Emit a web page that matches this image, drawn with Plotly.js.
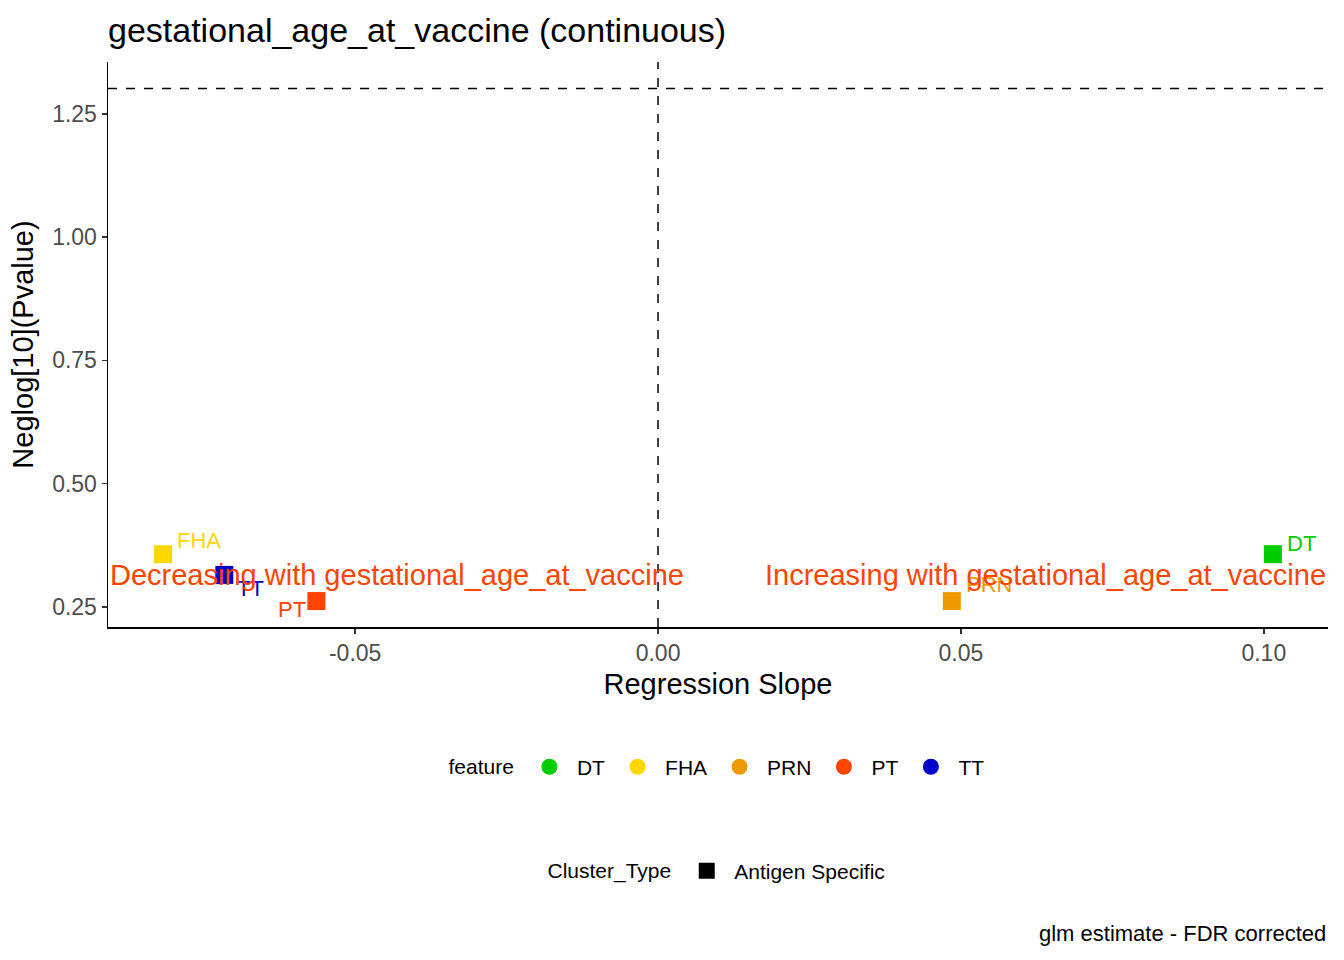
<!DOCTYPE html>
<html>
<head>
<meta charset="utf-8">
<script src="https://cdn.plot.ly/plotly-3.0.1.min.js"></script>
<style>html,body{margin:0;padding:0;background:#fff;}#chart{width:1344px;height:960px;}</style>
</head>
<body>
<div id="chart"></div>
<script>
// ---- data ----
var features = ["DT", "FHA", "PRN", "PT", "TT"];
var slopes = [0.1015, -0.0817, 0.0485, -0.0564, -0.0716];
var neglogP = [0.357, 0.357, 0.262, 0.262, 0.315];
var featureColors = ["#00CD00", "#FFD700", "#EE9A00", "#FF4500", "#0000CD"];
var clusterTypes = ["Antigen Specific"];
var xTickVals = [-0.05, 0.00, 0.05, 0.10];
var xTickText = ["-0.05", "0.00", "0.05", "0.10"];
var yTickVals = [0.25, 0.50, 0.75, 1.00, 1.25];
var yTickText = ["0.25", "0.50", "0.75", "1.00", "1.25"];
var pThreshold = 0.05;
var titleText = "gestational_age_at_vaccine (continuous)";
var leftText = "Decreasing with gestational_age_at_vaccine";
var rightText = "Increasing with gestational_age_at_vaccine";
var captionText = "glm estimate - FDR corrected";

// label offsets in pixels (repel-like placement)
var labelDx = [29, 36, 37, -24, 26];
var labelDy = [-11, -14, -17, 8, 14];

var font = "Liberation Sans, Arial, sans-serif";
var traces = [];
// data points (squares)
traces.push({
  type: "scatter", mode: "markers",
  x: slopes, y: neglogP,
  marker: {symbol: "square", size: 18, color: featureColors},
  showlegend: false, hoverinfo: "skip", cliponaxis: false
});
// legend entries for feature
features.forEach(function (f, i) {
  traces.push({
    type: "scatter", mode: "markers", x: [null], y: [null], name: f,
    marker: {symbol: "circle", size: 19, color: featureColors[i]},
    legend: "legend", showlegend: true
  });
});
// legend entry for Cluster_Type
clusterTypes.forEach(function (c) {
  traces.push({
    type: "scatter", mode: "markers", x: [null], y: [null], name: c,
    marker: {symbol: "square", size: 19, color: "#000000"},
    legend: "legend2", showlegend: true
  });
});

var annotations = [];
features.forEach(function (f, i) {
  annotations.push({
    x: slopes[i], y: neglogP[i], xref: "x", yref: "y",
    text: f, showarrow: false, xshift: labelDx[i], yshift: -labelDy[i],
    font: {family: font, size: 22, color: featureColors[i]}
  });
});
var midY = neglogP[4];
annotations.push({
  x: 0, xref: "paper", xanchor: "left", y: midY, yref: "y", yanchor: "middle",
  text: leftText, showarrow: false,
  font: {family: font, size: 29, color: "#FF4500"}
});
annotations.push({
  x: 1, xref: "paper", xanchor: "right", y: midY, yref: "y", yanchor: "middle",
  text: rightText, showarrow: false,
  font: {family: font, size: 29, color: "#FF4500"}
});
annotations.push({
  x: 1, xref: "paper", xanchor: "right", y: -0.5416, yref: "paper", yanchor: "middle",
  text: captionText, showarrow: false,
  font: {family: font, size: 22, color: "#000000"}
});

var hline = -Math.log10(pThreshold);
var layout = {
  width: 1344, height: 960,
  margin: {l: 108, r: 16, t: 62, b: 333},
  paper_bgcolor: "#ffffff", plot_bgcolor: "#ffffff",
  font: {family: font, color: "#000000"},
  title: {
    text: titleText, x: 108 / 1344, xref: "container", xanchor: "left",
    y: 1 - 30 / 960, yref: "container", yanchor: "middle",
    font: {family: font, size: 34, color: "#000000"}
  },
  xaxis: {
    range: [-0.0908, 0.1106], tickvals: xTickVals, ticktext: xTickText,
    showgrid: false, zeroline: false, showline: true, linecolor: "#000000", linewidth: 1.5,
    ticks: "outside", ticklen: 5, tickcolor: "#333333", tickwidth: 1.5,
    tickfont: {family: font, size: 23, color: "#4D4D4D"},
    title: {text: "Regression Slope", font: {family: font, size: 29, color: "#000000"}, standoff: 8}
  },
  yaxis: {
    range: [0.2094, 1.355], tickvals: yTickVals, ticktext: yTickText,
    showgrid: false, zeroline: false, showline: true, linecolor: "#000000", linewidth: 1.5,
    ticks: "outside", ticklen: 5, tickcolor: "#333333", tickwidth: 1.5,
    tickfont: {family: font, size: 23, color: "#4D4D4D"},
    title: {text: "Neglog[10](Pvalue)", font: {family: font, size: 29, color: "#000000"}, standoff: 10}
  },
  shapes: [
    {type: "line", xref: "paper", x0: 0, x1: 1, yref: "y", y0: hline, y1: hline,
     line: {color: "#000000", width: 1.5, dash: "dash"}},
    {type: "line", xref: "x", x0: 0, x1: 0, yref: "paper", y0: 0, y1: 1,
     line: {color: "#000000", width: 1.5, dash: "dash"}}
  ],
  annotations: annotations,
  legend: {
    orientation: "h", x: 0.5, xanchor: "center", y: -0.248, yanchor: "middle",
    title: {text: "feature", side: "left", font: {family: font, size: 21, color: "#000000"}},
    font: {family: font, size: 21, color: "#000000"}, itemsizing: "trace", itemwidth: 45
  },
  legend2: {
    orientation: "h", x: 0.5, xanchor: "center", y: -0.432, yanchor: "middle",
    title: {text: "Cluster_Type", side: "left", font: {family: font, size: 21, color: "#000000"}},
    font: {family: font, size: 21, color: "#000000"}, itemsizing: "trace", itemwidth: 45
  }
};

Plotly.newPlot("chart", traces, layout, {displayModeBar: false, staticPlot: true});
</script>
</body>
</html>
